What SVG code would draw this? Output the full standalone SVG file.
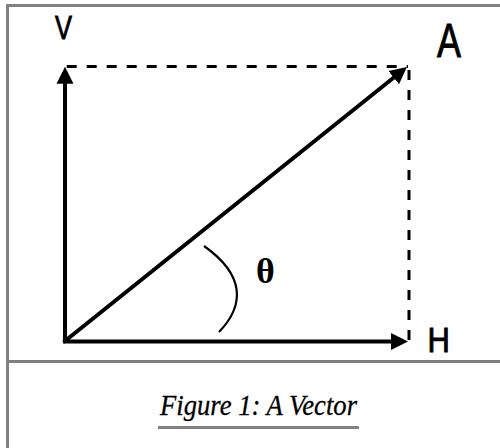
<svg xmlns="http://www.w3.org/2000/svg" width="500" height="448" viewBox="0 0 500 448">
  <style>
    .frame { stroke: #808080; stroke-width: 3; fill: none; }
    .shaft { stroke: #000; stroke-width: 4; fill: none; stroke-linecap: square; }
    .dash { stroke: #000; stroke-width: 3; fill: none; stroke-dasharray: 10 10; }
    .lbl { font-family: "Liberation Sans", Arial, sans-serif; fill: #000; stroke: #000; stroke-width: 0.9; }
    .theta { font-family: "Liberation Serif", "Times New Roman", serif; font-weight: bold; font-size: 36px; fill: #000; }
    .cap { font-family: "Liberation Serif", "Times New Roman", serif; font-style: italic; font-size: 30px; fill: #000; stroke: #000; stroke-width: 0.3; }
  </style>
  <defs>
    <marker id="ah" markerUnits="userSpaceOnUse" markerWidth="20" markerHeight="20" viewBox="0 -10 20 20" refX="5" refY="0" orient="auto">
      <path d="M0,-8.5 L17,0 L0,8.5 z" fill="#000"/>
    </marker>
  </defs>
  <rect width="500" height="448" fill="#fff"/>
  <!-- frame -->
  <line class="frame" x1="6" y1="5.5" x2="500" y2="5.5"/>
  <line class="frame" x1="7.5" y1="4" x2="7.5" y2="448"/>
  <line class="frame" x1="6" y1="361.5" x2="500" y2="361.5"/>

  <g id="connectors">
    <line class="dash" x1="66.7" y1="66.5" x2="408" y2="66.5"/>
    <line class="dash" x1="409" y1="70" x2="409" y2="341"/>
    <line class="shaft" x1="65" y1="341" x2="65" y2="78.7" marker-end="url(#ah)"/>
    <line class="shaft" x1="65" y1="341.5" x2="396" y2="341.5" marker-end="url(#ah)"/>
    <line class="shaft" x1="65" y1="341" x2="397.6" y2="74.5" marker-end="url(#ah)"/>
    <path id="angle-arc" d="M204,246 C245,275 245,305 219,332" stroke="#000" stroke-width="2.2" fill="none"/>
  </g>

  <g id="label-V"><text class="lbl" x="55" y="39" font-size="33.5" textLength="17" lengthAdjust="spacingAndGlyphs">V</text></g>
  <g id="label-A"><text class="lbl" x="437" y="57" font-size="47.5" textLength="24" lengthAdjust="spacingAndGlyphs">A</text></g>
  <g id="label-H"><text class="lbl" x="427.5" y="352" font-size="35" textLength="22.4" lengthAdjust="spacingAndGlyphs">H</text></g>
  <g id="label-theta"><text class="theta" x="256" y="283">θ</text></g>

  <g id="caption">
    <text class="cap" x="258.5" y="415" text-anchor="middle" textLength="197" lengthAdjust="spacingAndGlyphs">Figure 1: A Vector</text>
    <line x1="158" y1="427.5" x2="359" y2="427.5" stroke="#808080" stroke-width="3"/>
  </g>
</svg>
